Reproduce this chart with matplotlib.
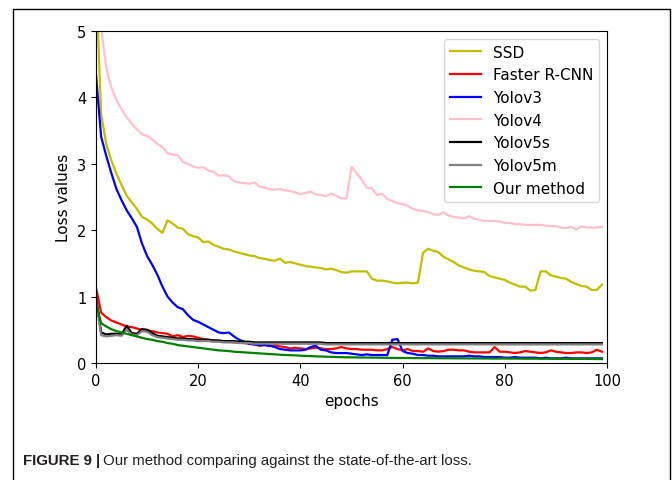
import matplotlib
matplotlib.use("Agg")
import matplotlib.pyplot as plt
from matplotlib import font_manager
from matplotlib.patches import Rectangle

epochs = list(range(100))

ssd = [5.8, 3.75, 3.30, 3.05, 2.85, 2.68, 2.52, 2.42, 2.32, 2.20,
       2.16, 2.10, 2.02, 1.96, 2.15, 2.10, 2.04, 2.02, 1.94, 1.91,
       1.89, 1.82, 1.83, 1.78, 1.75, 1.72, 1.71, 1.68, 1.66, 1.64,
       1.62, 1.61, 1.58, 1.57, 1.55, 1.54, 1.57, 1.51, 1.52, 1.50,
       1.48, 1.46, 1.45, 1.44, 1.43, 1.41, 1.42, 1.40, 1.37, 1.36,
       1.38, 1.38, 1.38, 1.38, 1.27, 1.24, 1.24, 1.23, 1.21, 1.20,
       1.21, 1.21, 1.20, 1.21, 1.66, 1.72, 1.69, 1.67, 1.60, 1.56,
       1.52, 1.47, 1.44, 1.41, 1.39, 1.38, 1.37, 1.31, 1.29, 1.27,
       1.25, 1.21, 1.18, 1.15, 1.15, 1.09, 1.10, 1.38, 1.38, 1.32,
       1.30, 1.28, 1.27, 1.22, 1.19, 1.16, 1.15, 1.10, 1.10, 1.18]

faster_rcnn = [1.14, 0.76, 0.69, 0.64, 0.61, 0.58, 0.55, 0.54, 0.52, 0.50,
               0.49, 0.48, 0.46, 0.45, 0.44, 0.40, 0.42, 0.39, 0.41, 0.40,
               0.38, 0.36, 0.35, 0.34, 0.33, 0.32, 0.32, 0.31, 0.31, 0.30,
               0.29, 0.28, 0.26, 0.27, 0.26, 0.26, 0.25, 0.24, 0.22, 0.23,
               0.22, 0.21, 0.22, 0.23, 0.22, 0.21, 0.21, 0.22, 0.24, 0.22,
               0.21, 0.21, 0.20, 0.20, 0.20, 0.19, 0.19, 0.21, 0.24, 0.21,
               0.19, 0.21, 0.18, 0.18, 0.17, 0.22, 0.18, 0.17, 0.18, 0.20,
               0.20, 0.19, 0.19, 0.17, 0.16, 0.16, 0.16, 0.16, 0.24, 0.17,
               0.17, 0.16, 0.15, 0.16, 0.18, 0.17, 0.16, 0.15, 0.16, 0.19,
               0.17, 0.16, 0.15, 0.15, 0.16, 0.16, 0.15, 0.16, 0.20, 0.17]

yolov3 = [4.34, 3.41, 3.12, 2.86, 2.62, 2.45, 2.30, 2.18, 2.05, 1.80,
          1.61, 1.48, 1.33, 1.15, 1.00, 0.91, 0.84, 0.81, 0.72, 0.65,
          0.62, 0.58, 0.54, 0.50, 0.46, 0.45, 0.46, 0.40, 0.35, 0.32,
          0.29, 0.28, 0.27, 0.27, 0.26, 0.24, 0.21, 0.20, 0.19, 0.19,
          0.19, 0.20, 0.24, 0.26, 0.20, 0.19, 0.16, 0.15, 0.15, 0.15,
          0.14, 0.13, 0.12, 0.13, 0.12, 0.12, 0.12, 0.12, 0.35, 0.36,
          0.18, 0.15, 0.14, 0.12, 0.12, 0.11, 0.11, 0.10, 0.10, 0.10,
          0.10, 0.10, 0.10, 0.11, 0.10, 0.10, 0.09, 0.09, 0.09, 0.09,
          0.08, 0.08, 0.09, 0.08, 0.08, 0.08, 0.08, 0.07, 0.08, 0.07,
          0.07, 0.07, 0.08, 0.07, 0.07, 0.07, 0.07, 0.07, 0.07, 0.07]

yolov4 = [5.6, 5.05, 4.45, 4.15, 3.96, 3.82, 3.70, 3.60, 3.52, 3.44,
          3.42, 3.37, 3.30, 3.25, 3.16, 3.14, 3.13, 3.03, 3.00, 2.96,
          2.94, 2.95, 2.90, 2.88, 2.82, 2.83, 2.81, 2.74, 2.72, 2.71,
          2.70, 2.72, 2.66, 2.64, 2.62, 2.61, 2.62, 2.60, 2.59, 2.57,
          2.54, 2.56, 2.58, 2.54, 2.53, 2.51, 2.55, 2.52, 2.48, 2.48,
          2.95, 2.86, 2.76, 2.64, 2.63, 2.53, 2.55, 2.47, 2.44, 2.41,
          2.39, 2.37, 2.32, 2.30, 2.29, 2.27, 2.24, 2.23, 2.27, 2.22,
          2.20, 2.19, 2.18, 2.21, 2.17, 2.16, 2.14, 2.14, 2.14, 2.13,
          2.11, 2.11, 2.09, 2.09, 2.08, 2.08, 2.08, 2.08, 2.07, 2.06,
          2.06, 2.04, 2.03, 2.05, 2.01, 2.06, 2.04, 2.04, 2.04, 2.05]

yolov5s = [1.00, 0.46, 0.43, 0.44, 0.44, 0.43, 0.56, 0.45, 0.44, 0.51,
           0.50, 0.45, 0.41, 0.40, 0.39, 0.38, 0.37, 0.37, 0.36, 0.36,
           0.35, 0.35, 0.35, 0.34, 0.34, 0.33, 0.33, 0.33, 0.32, 0.32,
           0.32, 0.31, 0.31, 0.31, 0.31, 0.31, 0.31, 0.31, 0.31, 0.31,
           0.31, 0.31, 0.31, 0.31, 0.31, 0.30, 0.30, 0.30, 0.30, 0.30,
           0.30, 0.30, 0.30, 0.30, 0.30, 0.30, 0.30, 0.30, 0.30, 0.30,
           0.30, 0.30, 0.30, 0.30, 0.30, 0.30, 0.30, 0.30, 0.30, 0.30,
           0.30, 0.30, 0.30, 0.30, 0.30, 0.30, 0.30, 0.30, 0.30, 0.30,
           0.30, 0.30, 0.30, 0.30, 0.30, 0.30, 0.30, 0.30, 0.30, 0.30,
           0.30, 0.30, 0.30, 0.30, 0.30, 0.30, 0.30, 0.30, 0.30, 0.30]

yolov5m = [0.95, 0.42, 0.40, 0.41, 0.42, 0.41, 0.50, 0.43, 0.42, 0.48,
           0.47, 0.42, 0.39, 0.38, 0.37, 0.36, 0.35, 0.35, 0.34, 0.34,
           0.33, 0.33, 0.33, 0.32, 0.32, 0.31, 0.31, 0.31, 0.30, 0.30,
           0.30, 0.29, 0.29, 0.29, 0.29, 0.29, 0.29, 0.29, 0.29, 0.29,
           0.29, 0.29, 0.29, 0.29, 0.29, 0.28, 0.28, 0.28, 0.28, 0.28,
           0.28, 0.28, 0.28, 0.28, 0.28, 0.28, 0.28, 0.28, 0.28, 0.28,
           0.28, 0.28, 0.28, 0.28, 0.28, 0.28, 0.28, 0.28, 0.28, 0.28,
           0.28, 0.28, 0.28, 0.28, 0.28, 0.28, 0.28, 0.28, 0.28, 0.28,
           0.28, 0.28, 0.28, 0.28, 0.28, 0.28, 0.28, 0.28, 0.28, 0.28,
           0.28, 0.28, 0.28, 0.28, 0.28, 0.28, 0.28, 0.28, 0.28, 0.28]

our_method = [0.92, 0.60, 0.55, 0.51, 0.48, 0.46, 0.44, 0.42, 0.40, 0.38,
              0.36, 0.35, 0.33, 0.32, 0.30, 0.29, 0.27, 0.26, 0.25, 0.24,
              0.23, 0.22, 0.21, 0.20, 0.19, 0.185, 0.18, 0.17, 0.165, 0.16,
              0.155, 0.15, 0.145, 0.14, 0.135, 0.13, 0.125, 0.12, 0.118, 0.115,
              0.11, 0.107, 0.104, 0.10, 0.098, 0.095, 0.093, 0.09, 0.088, 0.086,
              0.085, 0.084, 0.083, 0.082, 0.081, 0.080, 0.079, 0.078, 0.077, 0.076,
              0.075, 0.075, 0.074, 0.074, 0.073, 0.073, 0.072, 0.072, 0.071, 0.071,
              0.070, 0.070, 0.070, 0.069, 0.069, 0.068, 0.068, 0.068, 0.067, 0.067,
              0.067, 0.066, 0.066, 0.066, 0.065, 0.065, 0.065, 0.064, 0.064, 0.064,
              0.063, 0.063, 0.063, 0.062, 0.062, 0.062, 0.061, 0.061, 0.060, 0.060]

series = [
    (ssd, "y", "SSD"),
    (faster_rcnn, "r", "Faster R-CNN"),
    (yolov3, "b", "Yolov3"),
    (yolov4, "pink", "Yolov4"),
    (yolov5s, "k", "Yolov5s"),
    (yolov5m, "gray", "Yolov5m"),
    (our_method, "g", "Our method"),
]

fig = plt.figure(figsize=(6.72, 4.81), dpi=100)
ax = fig.add_axes([96 / 672, 1 - 364 / 481, 511 / 672, 332 / 481])

for vals, col, name in series:
    ax.plot(epochs, vals, color=col, lw=1.6, label=name)

ax.set_xlim(0, 100)
ax.set_ylim(0, 5)
ax.set_xticks([0, 20, 40, 60, 80, 100])
ax.set_yticks([0, 1, 2, 3, 4, 5])
ax.tick_params(labelsize=10.5)
ax.set_xlabel("epochs", fontsize=11)
ax.set_ylabel("Loss values", fontsize=11)
ax.legend(loc="upper right", fontsize=11)

# outer frame of the figure panel
fig.patches.append(Rectangle((13 / 672, -0.05), 657 / 672, 1.05 - 9.5 / 481,
                             transform=fig.transFigure, fill=False,
                             edgecolor="black", lw=1.0))

# caption: look for a narrow sans font, else plain Liberation Sans
narrow_reg = None
narrow_bold = None
for f in font_manager.findSystemFonts():
    low = f.lower()
    if "liberationsansnarrow" in low.replace("-", "").replace("_", ""):
        if "italic" in low:
            continue
        if "bold" in low:
            narrow_bold = f
        else:
            narrow_reg = f

if narrow_reg and narrow_bold:
    p_bold = font_manager.FontProperties(fname=narrow_bold, size=13)
    p_reg = font_manager.FontProperties(fname=narrow_reg, size=13)
else:
    p_bold = font_manager.FontProperties(family="Liberation Sans", weight="bold", size=10.8)
    p_reg = font_manager.FontProperties(family="Liberation Sans", size=10.8)

t1 = fig.text(23 / 672, 1 - 465 / 481, "FIGURE 9 |", fontproperties=p_bold,
              color="#231f20", va="baseline")
fig.canvas.draw()
bb = t1.get_window_extent()
fig.text((bb.x1 + 3) / 672, 1 - 465 / 481,
         "Our method comparing against the state-of-the-art loss.",
         fontproperties=p_reg, color="#231f20", va="baseline")

fig.savefig("out.png", dpi=100)
